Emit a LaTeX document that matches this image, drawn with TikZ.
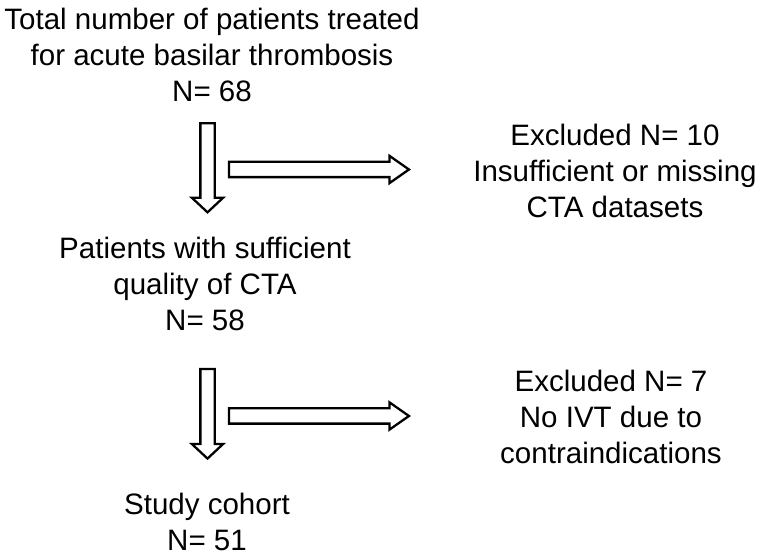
\documentclass[tikz,border=0pt]{standalone}
\usepackage{fontspec}
\setmainfont{Liberation Sans}
\usetikzlibrary{shapes.arrows}

\tikzset{
  flowtext/.style={align=center, anchor=base, inner sep=0pt,
    font=\fontsize{16.8}{20.7}\selectfont},
  downarrow/.style={single arrow, draw, line width=1.3pt, rotate=-90,
    inner xsep=0pt, inner ysep=0.12cm, single arrow head extend=0.17cm,
    single arrow tip angle=94},
  sidearrow/.style={single arrow, draw, line width=1.3pt,
    inner xsep=0pt, inner ysep=0.13cm, single arrow head extend=0.12cm,
    single arrow tip angle=70, minimum height=3.6cm}
}

\begin{document}
\begin{tikzpicture}
    \useasboundingbox (0,0) rectangle (15.2,11.2);
    % boxes of text (anchored at the last line)
    \node[flowtext] (total) at (4.24,9.16) {Total number of patients treated\\for acute basilar thrombosis\\N= 68};
    \node[flowtext] (ctaok) at (4.10,4.58) {Patients with sufficient\\quality of CTA\\N= 58};
    \node[flowtext] (excl1) at (12.30,6.84) {Excluded N= 10\\Insufficient or missing\\CTA datasets};
    \node[flowtext] (excl2) at (12.22,1.92) {Excluded N= 7\\No IVT due to\\contraindications};
    \node[flowtext] (cohort) at (4.14,0.18) {Study cohort\\N= 51};

    % block arrows
    \node[downarrow, minimum height=1.78cm] (down1) at (4.15,7.91) {};
    \node[downarrow, minimum height=1.79cm] (down2) at (4.15,2.99) {};
    \node[sidearrow] (side1) at (6.27,7.81) {};
    \node[sidearrow] (side2) at (6.27,2.88) {};
\end{tikzpicture}
\end{document}
